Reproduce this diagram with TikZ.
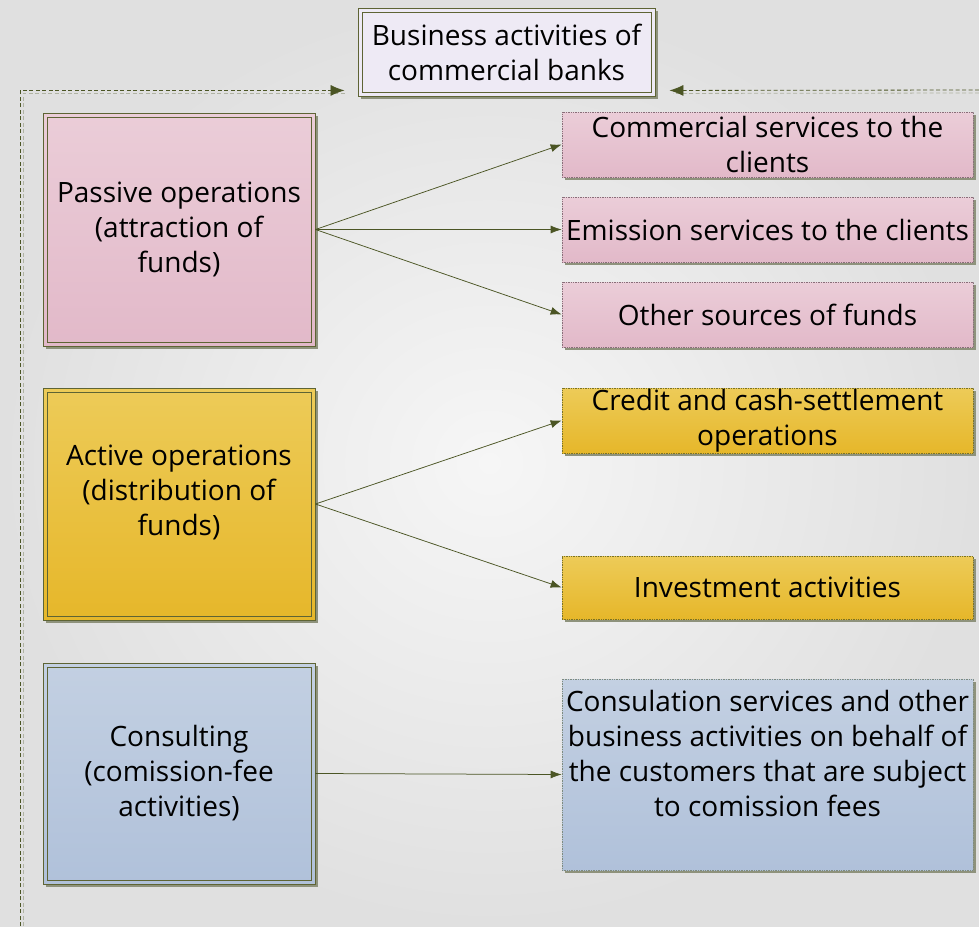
\documentclass[tikz,border=0pt]{standalone}
\usepackage{fontspec}
\setmainfont{Open Sans}
\usetikzlibrary{shadows,arrows.meta,calc}
\definecolor{olv}{HTML}{4B5524}
\definecolor{brd}{HTML}{5E6434}
\definecolor{shd}{HTML}{8E927C}
\definecolor{pinkT}{HTML}{EBCDD8}
\definecolor{pinkB}{HTML}{E2B9C9}
\definecolor{yelT}{HTML}{EDCB58}
\definecolor{yelB}{HTML}{E6B72A}
\definecolor{bluT}{HTML}{C3D0E2}
\definecolor{bluB}{HTML}{B0C1DA}
\definecolor{lav}{HTML}{EEEAF5}
\definecolor{bgA}{HTML}{F6F6F6}
\definecolor{bgB}{HTML}{E0E0E0}
\tikzset{
  shadowed/.style={drop shadow={shadow xshift=3pt, shadow yshift=-3pt, fill=shd, opacity=1}},
  dblbox/.style={shadowed, draw=brd, line width=0.9pt, inner sep=0pt, align=center,
    path picture={\draw[brd, line width=0.9pt] ([shift={(4pt,-4pt)}]path picture bounding box.north west) rectangle ([shift={(-4pt,4pt)}]path picture bounding box.south east);}},
  pinkdbl/.style={dblbox, top color=pinkT, bottom color=pinkB},
  yeldbl/.style={dblbox, top color=yelT, bottom color=yelB},
  bludbl/.style={dblbox, top color=bluT, bottom color=bluB},
  rbox/.style={shadowed, line width=0.7pt, densely dotted, minimum width=411pt, inner sep=0pt, align=center},
  pinkr/.style={rbox, draw=pinkB!60!black, top color=pinkT, bottom color=pinkB},
  yelr/.style={rbox, draw=olv!70!yelB, top color=yelT, bottom color=yelB},
  blur/.style={rbox, draw=olv!50!bluB, top color=bluT, bottom color=bluB},
  conn/.style={draw=olv, line width=0.75pt, -{Latex[length=11pt,width=8pt]}},
  dashln/.style={draw=olv, line width=0.8pt, dash pattern=on 4pt off 2.5pt},
  dashsh/.style={draw=shd!70!white, line width=0.8pt, dash pattern=on 4pt off 2.5pt},
  txt/.style={align=center, inner sep=0pt}
}
\begin{document}
\begin{tikzpicture}[x=1pt, y=-1pt, font=\fontsize{28}{35}\selectfont]
\useasboundingbox (0,0) rectangle (979,926);
\shade[inner color=bgA, outer color=bgB] (0,0) rectangle (979,926);

% top node
\node[dblbox, fill=lav, minimum width=297pt, minimum height=88pt] (top) at (506.5,52) {Business activities of\\commercial banks};

% left column
\node[pinkdbl, minimum width=272pt, minimum height=233pt] (passive) at (179,229.5) {Passive operations\\(attraction of\\funds)};
\node[yeldbl, minimum width=272pt, minimum height=232pt] (active) at (179,504) {};
\node[txt] (activeT) at (179,492) {Active operations\\(distribution of\\funds)};
\node[bludbl, minimum width=272pt, minimum height=221pt] (consult) at (179,773.5) {Consulting\\(comission-fee\\activities)};

% right column
\node[pinkr, minimum height=65pt] (comm) at (767.5,144.5) {Commercial services to the\\clients};
\node[pinkr, minimum height=65pt] (emis) at (767.5,229.5) {Emission services to the clients};
\node[pinkr, minimum height=65pt] (other) at (767.5,314.5) {Other sources of funds};
\node[yelr, minimum height=65pt] (credit) at (767.5,420.5) {Credit and cash-settlement\\operations};
\node[yelr, minimum height=63pt] (invest) at (767.5,587.5) {Investment activities};
\node[blur, minimum height=191pt] (consr) at (767.5,774.5) {};
\node[txt] (consrT) at (767.5,753) {Consulation services and other\\business activities on behalf of\\the customers that are subject\\to comission fees};

% connectors
\draw[conn] (passive.east) -- (comm.west);
\draw[conn] (passive.east) -- (emis.west);
\draw[conn] (passive.east) -- (other.west);
\draw[conn] (active.east) -- (credit.west);
\draw[conn] (active.east) -- (invest.west);
\draw[conn] (consult.east) -- (consr.west);

% dashed feedback lines
\coordinate (dl) at (20,926);
\coordinate (dr) at (979,90);
\coordinate (ta) at ($(top.south west)+(-13,-6)$);
\coordinate (tb) at ($(top.south east)+(14,-6)$);
\draw[dashsh] ($(dl)+(3,0)$) |- ($(ta)+(0,3)$);
\draw[dashsh] ($(dr)+(0,3)$) -- ($(tb)+(4,3)$);
\draw[dashln, -{Latex[length=14pt,width=11pt]}] (dl) |- (ta);
\draw[dashln, -{Latex[length=14pt,width=11pt]}] (dr) -- (tb);
\end{tikzpicture}
\end{document}
